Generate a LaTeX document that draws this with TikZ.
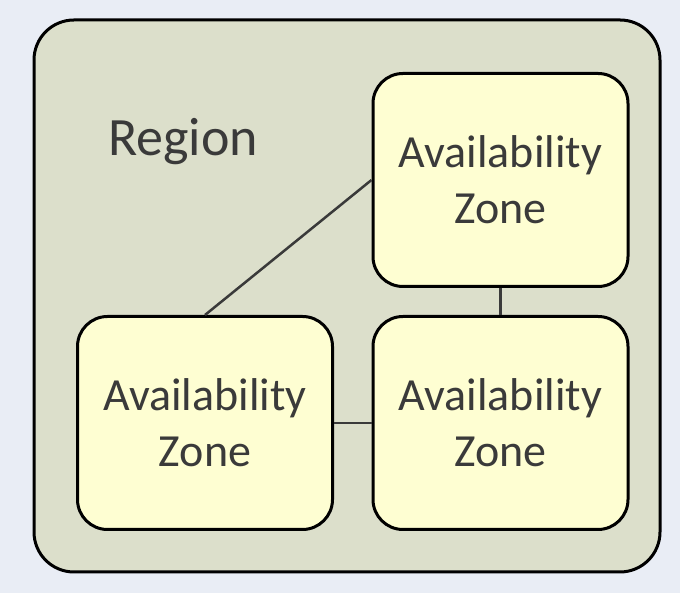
\documentclass[tikz,border=0pt]{standalone}
\usepackage{fontspec}
\setmainfont{Carlito}
\usepackage{xcolor}
\definecolor{pagebg}{HTML}{E9EDF5}
\definecolor{regionfill}{HTML}{DCDFCB}
\definecolor{zonefill}{HTML}{FEFED2}
\definecolor{textgray}{HTML}{3A3A3A}
\tikzset{
    every node/.style={font=\fontsize{46}{56}\selectfont, text=textgray},
    regionbox/.style={draw, line width=3pt, rounded corners=40pt, fill=regionfill,
        minimum width=626pt, minimum height=552pt},
    zonebox/.style={draw, line width=3pt, rounded corners=30pt, fill=zonefill,
        minimum width=255pt, minimum height=213pt, align=center},
    link/.style={draw=textgray, line width=2.5pt}
}
\begin{document}
\begin{tikzpicture}[x=1pt, y=1pt]
            \fill[pagebg] (0,0) rectangle (680,593);
            \useasboundingbox (0,0) rectangle (680,593);
            \node[regionbox] (region) at (347,297) {};
            \node[font=\fontsize{54}{64}\selectfont] (title) at (183,451) {Region};
            \node[zonebox] (zoneA) at (500.5,413) {Availability\\Zone};
            \node[zonebox] (zoneB) at (205,170) {Availability\\Zone};
            \node[zonebox] (zoneC) at (500.5,170) {Availability\\Zone};
            
            \draw[link] (zoneB.north) -- (zoneA.west);
            \draw[link] (zoneA) -- (zoneC);
            \draw[link] (zoneB) -- (zoneC);
        \end{tikzpicture}
\end{document}
